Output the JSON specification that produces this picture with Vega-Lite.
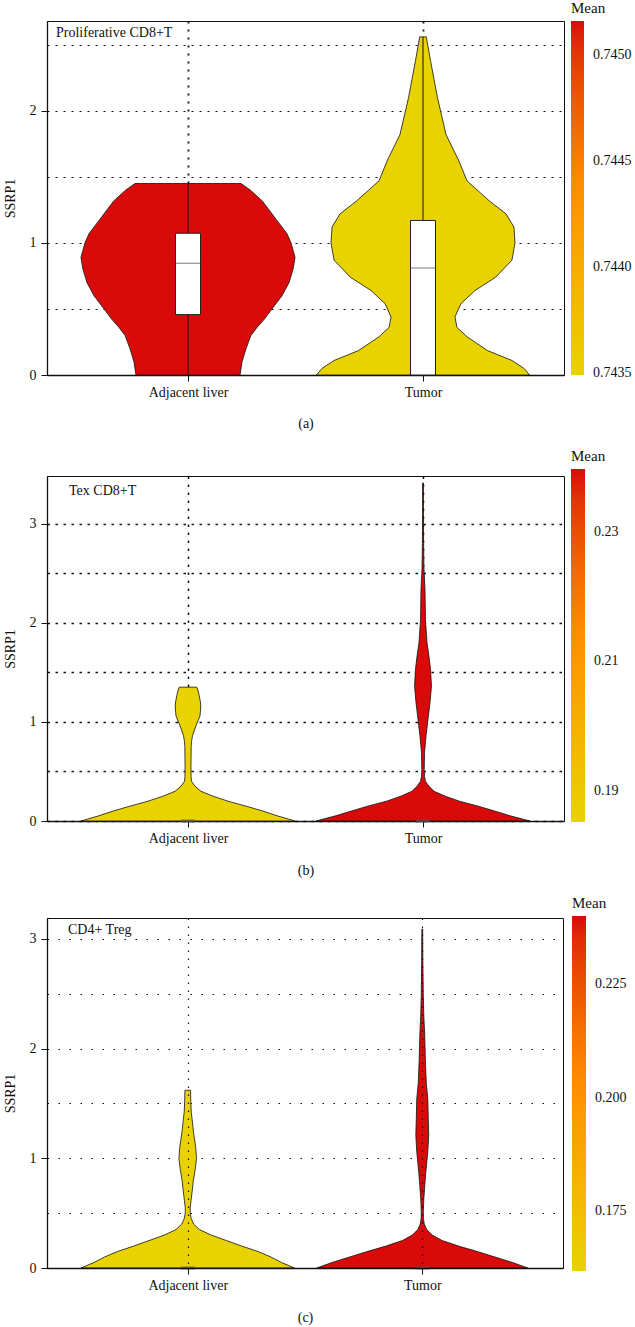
{
  "$schema": "https://vega.github.io/schema/vega-lite/v6.json",
  "padding": {"left": 2, "top": 0, "right": 0, "bottom": 0},
  "spacing": 17,
  "config": {
    "font": "Liberation Serif",
    "view": {"stroke": "#111", "strokeWidth": 1},
    "axis": {"labelFont": "Liberation Serif", "labelFontSize": 14, "labelColor": "#111", "titleFont": "Liberation Serif", "titleFontSize": 14, "titleFontWeight": "normal", "titleColor": "#111", "domainColor": "#111", "domainWidth": 1.3, "tickColor": "#111", "tickSize": 6, "gridColor": "#111"},
    "legend": {"labelFont": "Liberation Serif", "titleFont": "Liberation Serif", "labelFontSize": 14, "titleFontSize": 15, "titleFontWeight": "normal", "labelColor": "#111", "titleColor": "#111", "gradientStrokeWidth": 0},
    "title": {"font": "Liberation Serif", "fontSize": 14, "fontWeight": "normal", "color": "#111"}
  },
  "datasets": {
    "violinA": [
      {"group": "Adjacent liver", "expression": 0, "density": 0.443, "mean": 0.74516},
      {"group": "Adjacent liver", "expression": 0.1, "density": 0.46, "mean": 0.74516},
      {"group": "Adjacent liver", "expression": 0.2, "density": 0.494, "mean": 0.74516},
      {"group": "Adjacent liver", "expression": 0.3, "density": 0.536, "mean": 0.74516},
      {"group": "Adjacent liver", "expression": 0.36, "density": 0.587, "mean": 0.74516},
      {"group": "Adjacent liver", "expression": 0.42, "density": 0.647, "mean": 0.74516},
      {"group": "Adjacent liver", "expression": 0.49, "density": 0.706, "mean": 0.74516},
      {"group": "Adjacent liver", "expression": 0.6, "density": 0.8, "mean": 0.74516},
      {"group": "Adjacent liver", "expression": 0.7, "density": 0.86, "mean": 0.74516},
      {"group": "Adjacent liver", "expression": 0.8, "density": 0.894, "mean": 0.74516},
      {"group": "Adjacent liver", "expression": 0.89, "density": 0.911, "mean": 0.74516},
      {"group": "Adjacent liver", "expression": 1.0, "density": 0.877, "mean": 0.74516},
      {"group": "Adjacent liver", "expression": 1.07, "density": 0.843, "mean": 0.74516},
      {"group": "Adjacent liver", "expression": 1.17, "density": 0.757, "mean": 0.74516},
      {"group": "Adjacent liver", "expression": 1.25, "density": 0.69, "mean": 0.74516},
      {"group": "Adjacent liver", "expression": 1.32, "density": 0.63, "mean": 0.74516},
      {"group": "Adjacent liver", "expression": 1.4, "density": 0.53, "mean": 0.74516},
      {"group": "Adjacent liver", "expression": 1.45, "density": 0.451, "mean": 0.74516},
      {"group": "Tumor", "expression": 0, "density": 0.907, "mean": 0.7435},
      {"group": "Tumor", "expression": 0.05, "density": 0.86, "mean": 0.7435},
      {"group": "Tumor", "expression": 0.11, "density": 0.757, "mean": 0.7435},
      {"group": "Tumor", "expression": 0.185, "density": 0.549, "mean": 0.7435},
      {"group": "Tumor", "expression": 0.29, "density": 0.374, "mean": 0.7435},
      {"group": "Tumor", "expression": 0.36, "density": 0.289, "mean": 0.7435},
      {"group": "Tumor", "expression": 0.44, "density": 0.272, "mean": 0.7435},
      {"group": "Tumor", "expression": 0.54, "density": 0.323, "mean": 0.7435},
      {"group": "Tumor", "expression": 0.64, "density": 0.443, "mean": 0.7435},
      {"group": "Tumor", "expression": 0.74, "density": 0.618, "mean": 0.7435},
      {"group": "Tumor", "expression": 0.87, "density": 0.757, "mean": 0.7435},
      {"group": "Tumor", "expression": 1.0, "density": 0.783, "mean": 0.7435},
      {"group": "Tumor", "expression": 1.12, "density": 0.774, "mean": 0.7435},
      {"group": "Tumor", "expression": 1.22, "density": 0.706, "mean": 0.7435},
      {"group": "Tumor", "expression": 1.32, "density": 0.562, "mean": 0.7435},
      {"group": "Tumor", "expression": 1.47, "density": 0.374, "mean": 0.7435},
      {"group": "Tumor", "expression": 1.62, "density": 0.306, "mean": 0.7435},
      {"group": "Tumor", "expression": 1.82, "density": 0.196, "mean": 0.7435},
      {"group": "Tumor", "expression": 2.1, "density": 0.123, "mean": 0.7435},
      {"group": "Tumor", "expression": 2.38, "density": 0.064, "mean": 0.7435},
      {"group": "Tumor", "expression": 2.56, "density": 0.028, "mean": 0.7435}
    ],
    "boxA": [
      {"group": "Adjacent liver", "lower": 0, "q1": 0.457, "median": 0.846, "q3": 1.073, "upper": 1.45},
      {"group": "Tumor", "lower": 0, "q1": 0, "median": 0.81, "q3": 1.17, "upper": 2.56}
    ],
    "violinB": [
      {"group": "Adjacent liver", "expression": 0, "density": 0.91, "mean": 0.1852},
      {"group": "Adjacent liver", "expression": 0.05, "density": 0.766, "mean": 0.1852},
      {"group": "Adjacent liver", "expression": 0.1, "density": 0.638, "mean": 0.1852},
      {"group": "Adjacent liver", "expression": 0.15, "density": 0.494, "mean": 0.1852},
      {"group": "Adjacent liver", "expression": 0.2, "density": 0.34, "mean": 0.1852},
      {"group": "Adjacent liver", "expression": 0.25, "density": 0.213, "mean": 0.1852},
      {"group": "Adjacent liver", "expression": 0.3, "density": 0.11, "mean": 0.1852},
      {"group": "Adjacent liver", "expression": 0.35, "density": 0.06, "mean": 0.1852},
      {"group": "Adjacent liver", "expression": 0.4, "density": 0.03, "mean": 0.1852},
      {"group": "Adjacent liver", "expression": 0.45, "density": 0.026, "mean": 0.1852},
      {"group": "Adjacent liver", "expression": 0.55, "density": 0.025, "mean": 0.1852},
      {"group": "Adjacent liver", "expression": 0.65, "density": 0.026, "mean": 0.1852},
      {"group": "Adjacent liver", "expression": 0.75, "density": 0.027, "mean": 0.1852},
      {"group": "Adjacent liver", "expression": 0.8, "density": 0.03, "mean": 0.1852},
      {"group": "Adjacent liver", "expression": 0.86, "density": 0.038, "mean": 0.1852},
      {"group": "Adjacent liver", "expression": 0.96, "density": 0.068, "mean": 0.1852},
      {"group": "Adjacent liver", "expression": 1.06, "density": 0.102, "mean": 0.1852},
      {"group": "Adjacent liver", "expression": 1.15, "density": 0.109, "mean": 0.1852},
      {"group": "Adjacent liver", "expression": 1.2, "density": 0.106, "mean": 0.1852},
      {"group": "Adjacent liver", "expression": 1.3, "density": 0.089, "mean": 0.1852},
      {"group": "Adjacent liver", "expression": 1.35, "density": 0.075, "mean": 0.1852},
      {"group": "Tumor", "expression": 0, "density": 0.91, "mean": 0.2397},
      {"group": "Tumor", "expression": 0.05, "density": 0.75, "mean": 0.2397},
      {"group": "Tumor", "expression": 0.1, "density": 0.61, "mean": 0.2397},
      {"group": "Tumor", "expression": 0.15, "density": 0.47, "mean": 0.2397},
      {"group": "Tumor", "expression": 0.2, "density": 0.31, "mean": 0.2397},
      {"group": "Tumor", "expression": 0.25, "density": 0.19, "mean": 0.2397},
      {"group": "Tumor", "expression": 0.3, "density": 0.094, "mean": 0.2397},
      {"group": "Tumor", "expression": 0.35, "density": 0.051, "mean": 0.2397},
      {"group": "Tumor", "expression": 0.4, "density": 0.021, "mean": 0.2397},
      {"group": "Tumor", "expression": 0.45, "density": 0.013, "mean": 0.2397},
      {"group": "Tumor", "expression": 0.52, "density": 0.01, "mean": 0.2397},
      {"group": "Tumor", "expression": 0.69, "density": 0.013, "mean": 0.2397},
      {"group": "Tumor", "expression": 0.86, "density": 0.026, "mean": 0.2397},
      {"group": "Tumor", "expression": 1.03, "density": 0.043, "mean": 0.2397},
      {"group": "Tumor", "expression": 1.2, "density": 0.06, "mean": 0.2397},
      {"group": "Tumor", "expression": 1.36, "density": 0.072, "mean": 0.2397},
      {"group": "Tumor", "expression": 1.53, "density": 0.064, "mean": 0.2397},
      {"group": "Tumor", "expression": 1.66, "density": 0.051, "mean": 0.2397},
      {"group": "Tumor", "expression": 1.8, "density": 0.034, "mean": 0.2397},
      {"group": "Tumor", "expression": 2.03, "density": 0.021, "mean": 0.2397},
      {"group": "Tumor", "expression": 2.34, "density": 0.017, "mean": 0.2397},
      {"group": "Tumor", "expression": 2.54, "density": 0.0085, "mean": 0.2397},
      {"group": "Tumor", "expression": 2.8, "density": 0.005, "mean": 0.2397},
      {"group": "Tumor", "expression": 3.1, "density": 0.004, "mean": 0.2397},
      {"group": "Tumor", "expression": 3.41, "density": 0.0035, "mean": 0.2397}
    ],
    "violinC": [
      {"group": "Adjacent liver", "expression": 0, "density": 0.91, "mean": 0.1618},
      {"group": "Adjacent liver", "expression": 0.05, "density": 0.8, "mean": 0.1618},
      {"group": "Adjacent liver", "expression": 0.1, "density": 0.71, "mean": 0.1618},
      {"group": "Adjacent liver", "expression": 0.15, "density": 0.6, "mean": 0.1618},
      {"group": "Adjacent liver", "expression": 0.2, "density": 0.46, "mean": 0.1618},
      {"group": "Adjacent liver", "expression": 0.25, "density": 0.33, "mean": 0.1618},
      {"group": "Adjacent liver", "expression": 0.3, "density": 0.2, "mean": 0.1618},
      {"group": "Adjacent liver", "expression": 0.35, "density": 0.1, "mean": 0.1618},
      {"group": "Adjacent liver", "expression": 0.4, "density": 0.051, "mean": 0.1618},
      {"group": "Adjacent liver", "expression": 0.45, "density": 0.03, "mean": 0.1618},
      {"group": "Adjacent liver", "expression": 0.5, "density": 0.021, "mean": 0.1618},
      {"group": "Adjacent liver", "expression": 0.55, "density": 0.021, "mean": 0.1618},
      {"group": "Adjacent liver", "expression": 0.63, "density": 0.03, "mean": 0.1618},
      {"group": "Adjacent liver", "expression": 0.7, "density": 0.038, "mean": 0.1618},
      {"group": "Adjacent liver", "expression": 0.79, "density": 0.047, "mean": 0.1618},
      {"group": "Adjacent liver", "expression": 0.9, "density": 0.064, "mean": 0.1618},
      {"group": "Adjacent liver", "expression": 1.0, "density": 0.075, "mean": 0.1618},
      {"group": "Adjacent liver", "expression": 1.1, "density": 0.068, "mean": 0.1618},
      {"group": "Adjacent liver", "expression": 1.24, "density": 0.049, "mean": 0.1618},
      {"group": "Adjacent liver", "expression": 1.35, "density": 0.038, "mean": 0.1618},
      {"group": "Adjacent liver", "expression": 1.42, "density": 0.03, "mean": 0.1618},
      {"group": "Adjacent liver", "expression": 1.52, "density": 0.026, "mean": 0.1618},
      {"group": "Adjacent liver", "expression": 1.62, "density": 0.024, "mean": 0.1618},
      {"group": "Tumor", "expression": 0, "density": 0.9, "mean": 0.24},
      {"group": "Tumor", "expression": 0.05, "density": 0.77, "mean": 0.24},
      {"group": "Tumor", "expression": 0.1, "density": 0.62, "mean": 0.24},
      {"group": "Tumor", "expression": 0.15, "density": 0.47, "mean": 0.24},
      {"group": "Tumor", "expression": 0.2, "density": 0.31, "mean": 0.24},
      {"group": "Tumor", "expression": 0.25, "density": 0.17, "mean": 0.24},
      {"group": "Tumor", "expression": 0.3, "density": 0.085, "mean": 0.24},
      {"group": "Tumor", "expression": 0.35, "density": 0.038, "mean": 0.24},
      {"group": "Tumor", "expression": 0.4, "density": 0.017, "mean": 0.24},
      {"group": "Tumor", "expression": 0.45, "density": 0.01, "mean": 0.24},
      {"group": "Tumor", "expression": 0.51, "density": 0.0085, "mean": 0.24},
      {"group": "Tumor", "expression": 0.63, "density": 0.013, "mean": 0.24},
      {"group": "Tumor", "expression": 0.75, "density": 0.021, "mean": 0.24},
      {"group": "Tumor", "expression": 0.87, "density": 0.03, "mean": 0.24},
      {"group": "Tumor", "expression": 1.06, "density": 0.047, "mean": 0.24},
      {"group": "Tumor", "expression": 1.21, "density": 0.055, "mean": 0.24},
      {"group": "Tumor", "expression": 1.36, "density": 0.051, "mean": 0.24},
      {"group": "Tumor", "expression": 1.54, "density": 0.047, "mean": 0.24},
      {"group": "Tumor", "expression": 1.69, "density": 0.034, "mean": 0.24},
      {"group": "Tumor", "expression": 1.91, "density": 0.026, "mean": 0.24},
      {"group": "Tumor", "expression": 2.12, "density": 0.021, "mean": 0.24},
      {"group": "Tumor", "expression": 2.3, "density": 0.013, "mean": 0.24},
      {"group": "Tumor", "expression": 2.5, "density": 0.0085, "mean": 0.24},
      {"group": "Tumor", "expression": 2.8, "density": 0.005, "mean": 0.24},
      {"group": "Tumor", "expression": 3.09, "density": 0.0035, "mean": 0.24}
    ],
    "baseBox": [
      {"group": "Adjacent liver", "expression": 0},
      {"group": "Tumor", "expression": 0}
    ]
  },
  "vconcat": [
    {
      "width": 517,
      "height": 354,
      "title": {"text": "Proliferative CD8+T", "anchor": "start", "frame": "group", "offset": -39, "dx": 9},
      "layer": [
        {
          "data": {"name": "violinA"},
          "transform": [{"filter": {"field": "group", "equal": "Adjacent liver"}}],
          "mark": {"type": "area", "orient": "horizontal", "stroke": "#111", "strokeWidth": 0.8, "fillOpacity": 1},
          "encoding": {
            "y": {"field": "expression", "type": "quantitative", "scale": {"domain": [0, 2.68], "nice": false},
              "axis": {"title": "SSRP1", "values": [0, 0.5, 1, 1.5, 2, 2.5], "labelExpr": "datum.value % 1 === 0 ? format(datum.value, 'd') : ''", "tickOpacity": {"condition": {"test": "datum.value % 1 !== 0", "value": 0}, "value": 1}, "grid": true, "gridDash": [2, 6], "gridWidth": 1.2, "labelPadding": 5, "titlePadding": 12}},
            "x": {"field": "density", "type": "quantitative", "stack": "center", "scale": {"domain": [-0.1445, 2.0555], "nice": false, "zero": false}, "axis": null},
            "color": {"field": "mean", "type": "quantitative",
              "scale": {"domain": [0.74349, 0.744413, 0.74516], "range": ["#e8d300", "#ff8a00", "#da0a0a"]},
              "legend": {"title": "Mean", "orient": "none", "legendX": 524, "legendY": -20, "direction": "vertical", "gradientLength": 354, "gradientThickness": 13, "values": [0.7435, 0.744, 0.7445, 0.745], "format": ".4f", "labelOffset": 9, "titlePadding": 5}}
          }
        },
        {
          "data": {"name": "violinA"},
          "transform": [{"filter": {"field": "group", "equal": "Tumor"}}],
          "mark": {"type": "area", "orient": "horizontal", "stroke": "#111", "strokeWidth": 0.8, "fillOpacity": 1},
          "encoding": {
            "y": {"field": "expression", "type": "quantitative", "scale": {"domain": [0, 2.68], "nice": false}},
            "x": {"field": "density", "type": "quantitative", "stack": "center", "scale": {"domain": [-1.1465, 1.0535], "nice": false, "zero": false}, "axis": null},
            "color": {"field": "mean", "type": "quantitative",
              "scale": {"domain": [0.74349, 0.744413, 0.74516], "range": ["#e8d300", "#ff8a00", "#da0a0a"]},
              "legend": null}
          }
        },
        {
          "data": {"name": "boxA"},
          "layer": [
            {
              "mark": {"type": "rule", "color": "#111", "strokeWidth": 1},
              "encoding": {
                "x": {"field": "group", "type": "nominal", "scale": {"type": "point", "padding": 0.6, "domain": ["Adjacent liver", "Tumor"]},
                  "axis": {"title": "(a)", "labelAngle": 0, "grid": true, "gridDash": [2, 6], "gridWidth": 1.8, "labelPadding": 4, "titlePadding": 17}},
                "y": {"field": "lower", "type": "quantitative", "scale": {"domain": [0, 2.68], "nice": false}},
                "y2": {"field": "upper"}
              }
            },
            {
              "mark": {"type": "bar", "width": 25, "fill": "white", "stroke": "#222", "strokeWidth": 1},
              "encoding": {
                "x": {"field": "group", "type": "nominal"},
                "y": {"field": "q1", "type": "quantitative"},
                "y2": {"field": "q3"}
              }
            },
            {
              "mark": {"type": "tick", "size": 25, "thickness": 1, "color": "#444"},
              "encoding": {
                "x": {"field": "group", "type": "nominal"},
                "y": {"field": "median", "type": "quantitative"}
              }
            }
          ]
        }
      ],
      "resolve": {"scale": {"x": "independent"}}
    },
    {
      "width": 517,
      "height": 345,
      "title": {"text": "Tex CD8+T", "anchor": "start", "frame": "group", "offset": -49, "dx": 22},
      "layer": [
        {
          "data": {"name": "violinB"},
          "transform": [{"filter": {"field": "group", "equal": "Adjacent liver"}}],
          "mark": {"type": "area", "orient": "horizontal", "stroke": "#111", "strokeWidth": 0.8, "fillOpacity": 1},
          "encoding": {
            "y": {"field": "expression", "type": "quantitative", "scale": {"domain": [0, 3.48], "nice": false},
              "axis": {"title": "SSRP1", "values": [0, 0.5, 1, 1.5, 2, 2.5, 3], "labelExpr": "datum.value % 1 === 0 ? format(datum.value, 'd') : ''", "tickOpacity": {"condition": {"test": "datum.value % 1 !== 0", "value": 0}, "value": 1}, "grid": true, "gridDash": [2.5, 5.5], "gridWidth": 1.5, "labelPadding": 5, "titlePadding": 12}},
            "x": {"field": "density", "type": "quantitative", "stack": "center", "scale": {"domain": [-0.145, 2.055], "nice": false, "zero": false}, "axis": null},
            "color": {"field": "mean", "type": "quantitative",
              "scale": {"domain": [0.1852, 0.2152, 0.2397], "range": ["#e8d300", "#ff8a00", "#da0a0a"]},
              "legend": {"title": "Mean", "orient": "none", "legendX": 524, "legendY": -27, "direction": "vertical", "gradientLength": 353, "gradientThickness": 14, "values": [0.19, 0.21, 0.23], "format": ".2f", "labelOffset": 9, "titlePadding": 5}}
          }
        },
        {
          "data": {"name": "violinB"},
          "transform": [{"filter": {"field": "group", "equal": "Tumor"}}],
          "mark": {"type": "area", "orient": "horizontal", "stroke": "#111", "strokeWidth": 0.8, "fillOpacity": 1},
          "encoding": {
            "y": {"field": "expression", "type": "quantitative", "scale": {"domain": [0, 3.48], "nice": false}},
            "x": {"field": "density", "type": "quantitative", "stack": "center", "scale": {"domain": [-1.145, 1.055], "nice": false, "zero": false}, "axis": null},
            "color": {"field": "mean", "type": "quantitative",
              "scale": {"domain": [0.1852, 0.2152, 0.2397], "range": ["#e8d300", "#ff8a00", "#da0a0a"]},
              "legend": null}
          }
        },
        {
          "data": {"name": "baseBox"},
          "mark": {"type": "tick", "size": 14, "thickness": 3, "color": "#555"},
          "encoding": {
            "x": {"field": "group", "type": "nominal", "scale": {"type": "point", "padding": 0.6, "domain": ["Adjacent liver", "Tumor"]},
              "axis": {"title": "(b)", "labelAngle": 0, "grid": true, "gridDash": [2.5, 5.5], "gridWidth": 1.5, "labelPadding": 4, "titlePadding": 18}},
            "y": {"field": "expression", "type": "quantitative", "scale": {"domain": [0, 3.48], "nice": false}}
          }
        }
      ],
      "resolve": {"scale": {"x": "independent"}}
    },
    {
      "width": 516,
      "height": 350,
      "title": {"text": "CD4+ Treg", "anchor": "start", "frame": "group", "offset": -41, "dx": 21},
      "layer": [
        {
          "data": {"name": "violinC"},
          "transform": [{"filter": {"field": "group", "equal": "Adjacent liver"}}],
          "mark": {"type": "area", "orient": "horizontal", "stroke": "#111", "strokeWidth": 0.8, "fillOpacity": 1},
          "encoding": {
            "y": {"field": "expression", "type": "quantitative", "scale": {"domain": [0, 3.19], "nice": false},
              "axis": {"title": "SSRP1", "values": [0, 0.5, 1, 1.5, 2, 2.5, 3], "labelExpr": "datum.value % 1 === 0 ? format(datum.value, 'd') : ''", "tickOpacity": {"condition": {"test": "datum.value % 1 !== 0", "value": 0}, "value": 1}, "grid": true, "gridDash": [1.5, 9.5], "gridWidth": 1.2, "labelPadding": 5, "titlePadding": 12}},
            "x": {"field": "density", "type": "quantitative", "stack": "center", "scale": {"domain": [-0.145, 2.055], "nice": false, "zero": false}, "axis": null},
            "color": {"field": "mean", "type": "quantitative",
              "scale": {"domain": [0.1618, 0.2048, 0.24], "range": ["#e8d300", "#ff8a00", "#da0a0a"]},
              "legend": {"title": "Mean", "orient": "none", "legendX": 525, "legendY": -22, "direction": "vertical", "gradientLength": 355, "gradientThickness": 14, "values": [0.175, 0.2, 0.225], "format": ".3f", "labelOffset": 9, "titlePadding": 5}}
          }
        },
        {
          "data": {"name": "violinC"},
          "transform": [{"filter": {"field": "group", "equal": "Tumor"}}],
          "mark": {"type": "area", "orient": "horizontal", "stroke": "#111", "strokeWidth": 0.8, "fillOpacity": 1},
          "encoding": {
            "y": {"field": "expression", "type": "quantitative", "scale": {"domain": [0, 3.19], "nice": false}},
            "x": {"field": "density", "type": "quantitative", "stack": "center", "scale": {"domain": [-1.15, 1.05], "nice": false, "zero": false}, "axis": null},
            "color": {"field": "mean", "type": "quantitative",
              "scale": {"domain": [0.1618, 0.2048, 0.24], "range": ["#e8d300", "#ff8a00", "#da0a0a"]},
              "legend": null}
          }
        },
        {
          "data": {"name": "baseBox"},
          "mark": {"type": "tick", "size": 14, "thickness": 3, "color": "#555"},
          "encoding": {
            "x": {"field": "group", "type": "nominal", "scale": {"type": "point", "padding": 0.6, "domain": ["Adjacent liver", "Tumor"]},
              "axis": {"title": "(c)", "labelAngle": 0, "grid": true, "gridDash": [1.5, 6.5], "gridWidth": 1.2, "labelPadding": 4, "titlePadding": 18, "zindex": 1}},
            "y": {"field": "expression", "type": "quantitative", "scale": {"domain": [0, 3.19], "nice": false}}
          }
        }
      ],
      "resolve": {"scale": {"x": "independent"}}
    }
  ],
  "resolve": {"scale": {"color": "independent", "y": "independent", "x": "independent"}, "legend": {"color": "independent"}}
}
